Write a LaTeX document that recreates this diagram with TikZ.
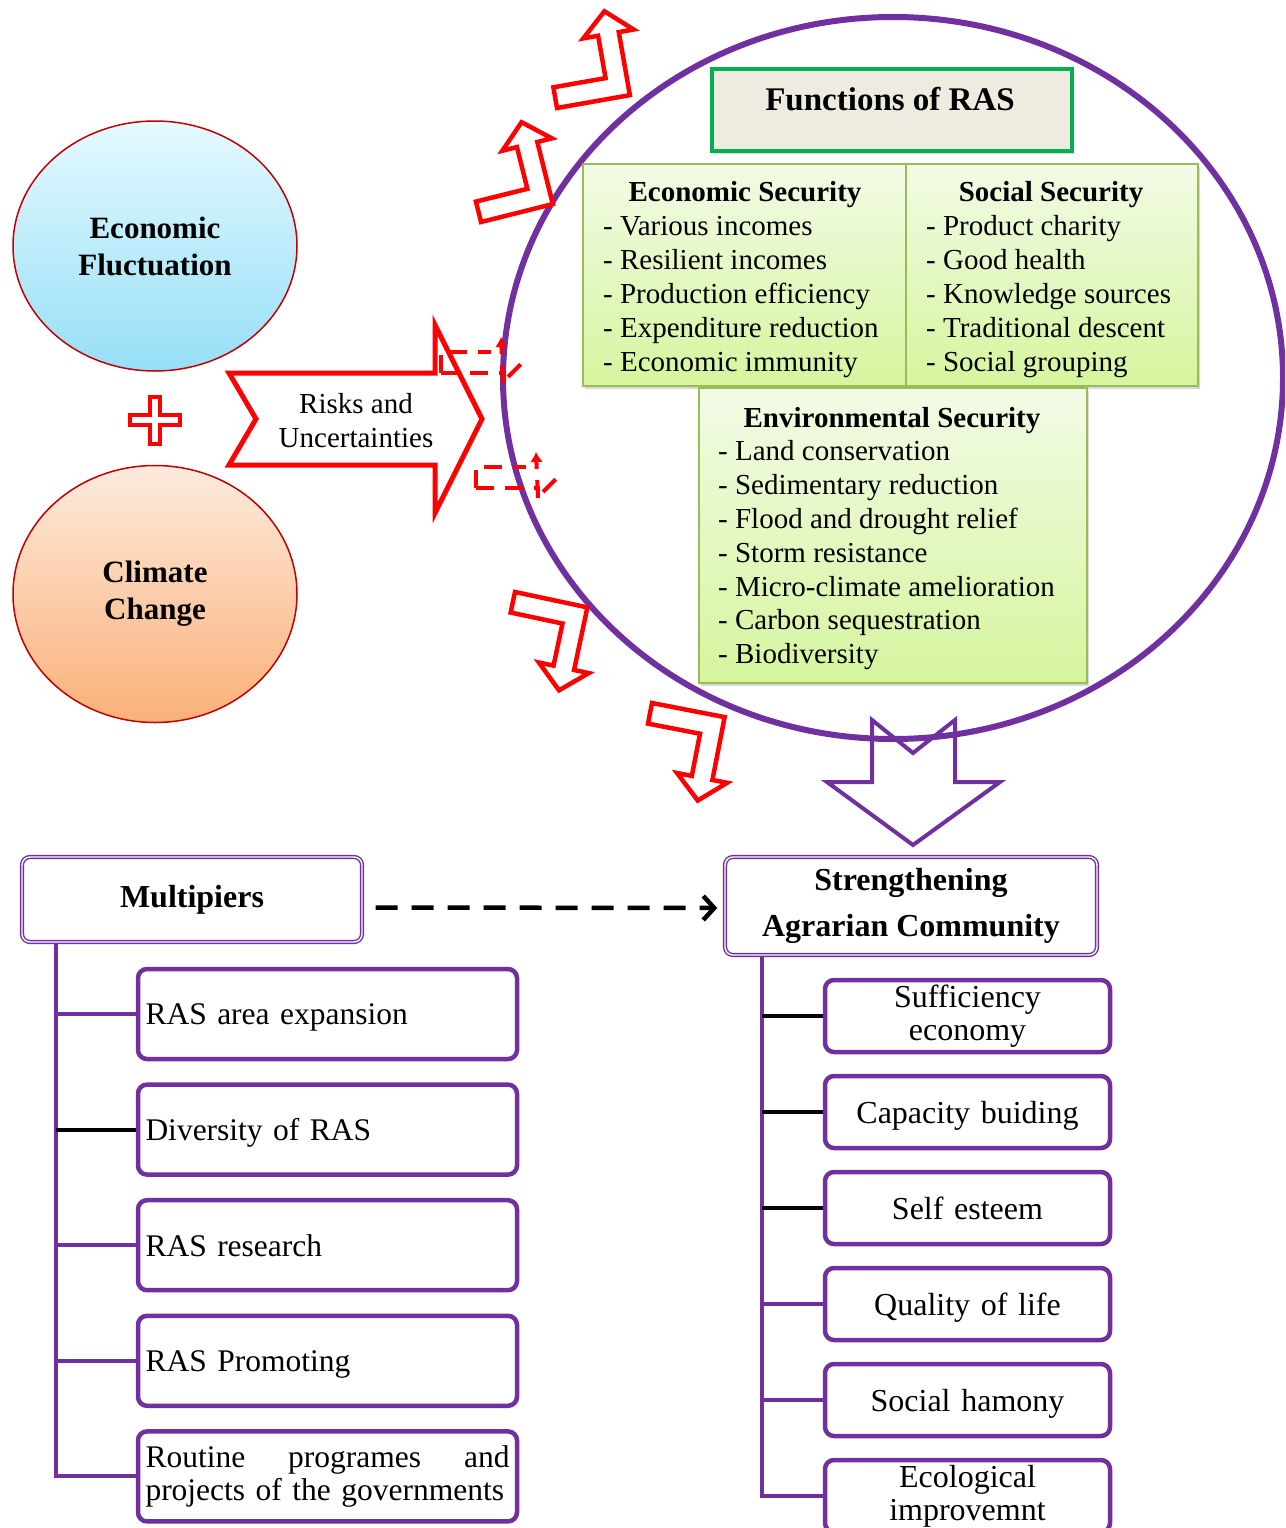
\documentclass[tikz,border=0pt]{standalone}
\usepackage{fontspec}
\setmainfont{Liberation Serif}
\usetikzlibrary{arrows.meta,shapes.geometric,shadows,positioning}
\definecolor{raspurple}{HTML}{7030A0}
\definecolor{rasred}{HTML}{FF0000}
\definecolor{rasgreen}{HTML}{00B050}
\definecolor{olivegreen}{HTML}{9BBB59}
\definecolor{paper}{HTML}{EEECE1}
\definecolor{limetop}{HTML}{F2FBE6}
\definecolor{limebot}{HTML}{D6F59E}
\definecolor{skytop}{HTML}{E6F9FF}
\definecolor{skybot}{HTML}{96DFF7}
\definecolor{peachtop}{HTML}{FDEBDD}
\definecolor{peachbot}{HTML}{FAB078}
\definecolor{darkred}{HTML}{C00000}
\tikzset{
  blob/.style={draw=darkred, line width=1.5pt, ellipse, minimum width=284pt, inner sep=0pt, align=center, font=\bfseries\fontsize{31}{37}\selectfont},
  secbox/.style={draw=olivegreen, line width=2pt, top color=limetop, bottom color=limebot, anchor=north west, drop shadow={opacity=0.3, shadow xshift=2pt, shadow yshift=-3pt}},
  sechead/.style={anchor=base, inner sep=0pt, font=\bfseries\fontsize{29}{34}\selectfont},
  entry/.style={anchor=base west, inner sep=0pt, font=\fontsize{29}{34}\selectfont},
  redline/.style={draw=rasred, line width=4.5pt, fill=white, line join=miter},
  reddash/.style={draw=rasred, line width=4pt, dash pattern=on 18pt off 11pt},
  hub/.style={draw=raspurple, line width=1.4pt, double=white, double distance=1.4pt, rounded corners=8pt, align=center, font=\bfseries\fontsize{32}{46}\selectfont},
  task/.style={draw=raspurple, line width=4.5pt, rounded corners=9pt, minimum width=379pt, minimum height=90pt, text width=364pt, inner xsep=7.5pt, align=left, font=\fontsize{31.5}{33}\selectfont},
  goal/.style={draw=raspurple, line width=4.5pt, rounded corners=9pt, minimum width=285pt, minimum height=72pt, text width=270pt, align=center, font=\fontsize{32}{33}\selectfont},
  flat/.style={text depth=0pt},
  trunk/.style={line width=4pt},
  bentup/.pic={\path[redline] (0,0) -- (74,0) -- (74,-64) -- (89,-64) -- (63.5,-87) -- (38,-64) -- (53,-64) -- (53,-21) -- (0,-21) -- cycle;},
  bentdown/.pic={\path[redline] (0,0) -- (74,0) -- (74,64) -- (89,64) -- (63.5,87) -- (38,64) -- (53,64) -- (53,21) -- (0,21) -- cycle;},
  dashbent/.pic={
    \draw[reddash] (0,0) -- (0,-21) -- (50,-21);
    \draw[reddash] (0,0) -- (62,0) -- (62,10);
    \draw[reddash, -{Latex[length=10pt, width=13pt]}] (62,10) -- (60,-36);
    \draw[reddash] (67,4) -- (83,-12);}
}
\begin{document}
\begin{tikzpicture}[x=1pt, y=-1pt, >=latex]
  \useasboundingbox (0,0) rectangle (1285,1528);
  \clip (0,0) rectangle (1285,1528);
  % The ring of RAS functions
  \node[draw=raspurple, line width=6pt, ellipse, minimum width=780pt, minimum height=722pt, inner sep=0pt] (ring) at (893,378) {};
  % Bent arrows around the ring
  \pic (upA) [rotate=10] at (557,108) {bentup};
  \pic (upB) [rotate=14] at (481,222) {bentup};
  \pic (downA) [rotate=-12] at (515,592) {bentdown};
  \pic (downB) [rotate=-11] at (652,703) {bentdown};
  % Functions of RAS
  \node[draw=rasgreen, line width=4pt, fill=paper, minimum width=360pt, minimum height=82pt, anchor=north west, drop shadow={opacity=0.3, shadow xshift=2pt, shadow yshift=-3pt}] (func) at (710,67) {};
  \node[anchor=base, inner sep=0pt, font=\bfseries\fontsize{33}{40}\selectfont] (functitle) at (890,110) {Functions of RAS};
  \node[secbox, minimum width=323pt, minimum height=222pt] (eco) at (582,163) {};
  \node[secbox, minimum width=292pt, minimum height=222pt] (soc) at (905,163) {};
  \node[secbox, minimum width=388pt, minimum height=295pt] (env) at (698,387) {};
  \node[sechead] (ecohead) at (745,201) {Economic Security};
  \node[sechead] (sochead) at (1051,201) {Social Security};
  \node[sechead] (envhead) at (892,427) {Environmental Security};
  \foreach \txt [count=\i] in {Various incomes, Resilient incomes, Production efficiency, Expenditure reduction, Economic immunity}{
    \node[entry] (eco\i) at (603,{202+33.8*\i}) {- \txt};
  }
  \foreach \txt [count=\i] in {Product charity, Good health, Knowledge sources, Traditional descent, Social grouping}{
    \node[entry] (soc\i) at (926,{202+33.8*\i}) {- \txt};
  }
  \foreach \txt [count=\i] in {Land conservation, Sedimentary reduction, Flood and drought relief, Storm resistance, Micro-climate amelioration, Carbon sequestration, Biodiversity}{
    \node[entry] (env\i) at (718,{427+33.8*\i}) {- \txt};
  }
  % Drivers
  \node[blob, minimum height=250pt, top color=skytop, bottom color=skybot] (econfl) at (155,246) {Economic\\Fluctuation};
  \node[blob, minimum height=257pt, top color=peachtop, bottom color=peachbot] (climate) at (155,594) {Climate\\Change};
  \draw[redline, line width=4pt] (150,397) -- (160,397) -- (160,415) -- (180,415) -- (180,425) -- (160,425) -- (160,444) -- (150,444) -- (150,425) -- (130,425) -- (130,415) -- (150,415) -- cycle;
  % Risks arrow
  \draw[redline, line width=5pt] (229,373) -- (435,373) -- (435,325) -- (482,419) -- (435,513) -- (435,465) -- (229,465) -- (256,419) -- cycle;
  \node[inner sep=0pt, align=center, font=\fontsize{29}{34}\selectfont] (risk) at (356,421) {Risks and\\Uncertainties};
  \pic (dashA) at (441,373) {dashbent};
  \pic (dashB) at (476,488) {dashbent};
  % Down arrow
  \draw[raspurple, line width=4pt, line join=miter] (872,720) -- (913,753) -- (955,720) -- (955,782) -- (1000,782) -- (913,845) -- (827,782) -- (872,782) -- cycle;
  % Lower trees
  \node[hub, minimum width=340pt, minimum height=85pt] (multi) at (192,899.5) {Multipiers};
  \node[hub, minimum width=372pt, minimum height=98pt] (strength) at (911,906) {Strengthening\\Agrarian Community};
  \draw[line width=4.5pt, dash pattern=on 22pt off 14pt, -{Straight Barb[length=11pt, width=24pt]}] ([shift={(13,8)}]multi.east) -- ([shift={(-7,2)}]strength.west);
  \foreach \txt/\o [count=\i] in {RAS area expansion/flat, Diversity of RAS/flat, RAS research/flat, RAS Promoting/flat, {Routine\hfill programes\hfill and\\\mbox{projects of the governments}}/{}}{
    \node[task, \o] (m\i) at (327.5,{1014+115.6*(\i-1)}) {\txt};
  }
  \foreach \txt/\o [count=\i] in {Sufficiency\\economy/{}, Capacity buiding/flat, Self esteem/flat, Quality of life/flat, Social hamony/flat, Ecological\\improvemnt/{}}{
    \node[goal, \o] (s\i) at (967.5,{1016+96*(\i-1)}) {\txt};
  }
  \coordinate (ltop) at ([xshift=35pt]multi.south west);
  \coordinate (rtop) at ([xshift=38pt]strength.south west);
  \draw[trunk, raspurple] (ltop) |- (m5.west);
  \foreach \i/\c in {1/raspurple,2/black,3/raspurple,4/raspurple}
    \draw[trunk, \c] (ltop |- m\i.west) -- (m\i.west);
  \draw[trunk, raspurple] (rtop) |- (s6.west);
  \foreach \i/\c in {1/black,2/black,3/black,4/raspurple,5/raspurple}
    \draw[trunk, \c] (rtop |- s\i.west) -- (s\i.west);
\end{tikzpicture}
\end{document}
